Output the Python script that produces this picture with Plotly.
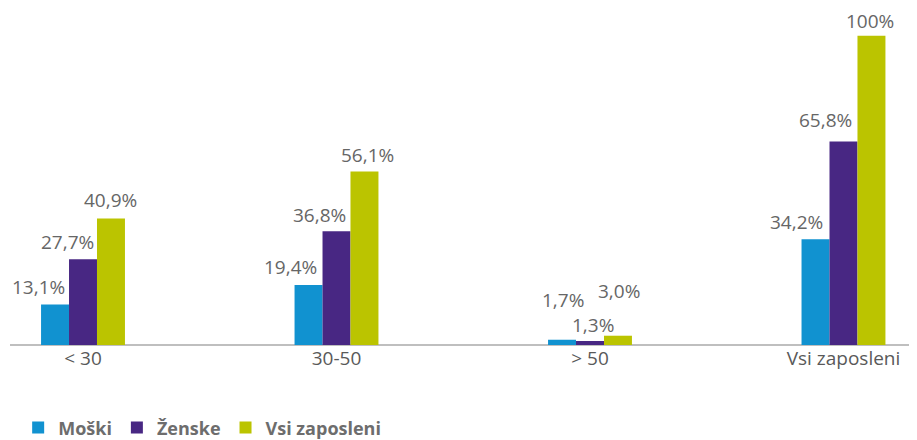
import plotly.graph_objects as go

categories = ["< 30", "30-50", "> 50", "Vsi zaposleni"]
series_names = ["Moški", "Ženske", "Vsi zaposleni"]
moski = [13.1, 19.4, 1.7, 34.2]
zenske = [27.7, 36.8, 1.3, 65.8]
vsi = [40.9, 56.1, 3.0, 100.0]
labels_moski = ["13,1%", "19,4%", "1,7%", "34,2%"]
labels_zenske = ["27,7%", "36,8%", "1,3%", "65,8%"]
labels_vsi = ["40,9%", "56,1%", "3,0%", "100%"]

colors = ["#1192d0", "#482783", "#bbc400"]
# style: label offsets (pixels) per series, per category
bar_px = [-28, 0, 28]
dx = [[-17, -18, 1, -19], [-16, -17, 3, -18], [-1, 3, 1, -1]]
dy = [[18, 18, 40, 17], [17, 16, 16, 22], [19, 17, 45, 15]]

FONT = "Open Sans"
fig = go.Figure()
vals = [moski, zenske, vsi]
labs = [labels_moski, labels_zenske, labels_vsi]
for i, (name, v) in enumerate(zip(series_names, vals)):
    fig.add_trace(go.Bar(x=categories, y=v, name=name, marker=dict(color=colors[i], line=dict(width=0)),
                         hoverinfo="skip"))

annotations = []
for i in range(3):
    for j, c in enumerate(categories):
        annotations.append(dict(x=c, y=vals[i][j], xref="x", yref="y", text=labs[i][j], showarrow=False,
                                xanchor="center", yanchor="middle", borderpad=0,
                                xshift=bar_px[i] + dx[i][j], yshift=dy[i][j],
                                font=dict(family=FONT, size=19, color="#666666")))

# page has an 8px body margin, so the figure is sized 8px smaller
fig.update_layout(
    width=909, height=432,
    margin=dict(l=2, r=0, t=0, b=95, autoexpand=False),
    paper_bgcolor="white", plot_bgcolor="white",
    barmode="group", bargap=0.669, bargroupgap=0,
    annotations=annotations,
    xaxis=dict(range=[-0.288, 3.29], showgrid=False, zeroline=False, showline=False,
               tickfont=dict(family=FONT, size=19, color="#595959"), ticks="", fixedrange=True),
    yaxis=dict(range=[0, 109.0], showgrid=False, zeroline=True, zerolinecolor="#bfbfbf", zerolinewidth=1.5,
               showticklabels=False, showline=False, fixedrange=True),
    legend=dict(orientation="h", x=0.009, xanchor="left", y=-0.246, yanchor="middle",
                font=dict(family=FONT, size=18, color="#6d6d6d", weight="bold"),
                itemwidth=30, traceorder="normal"),
    showlegend=True,
)
fig.write_html("out.html")
